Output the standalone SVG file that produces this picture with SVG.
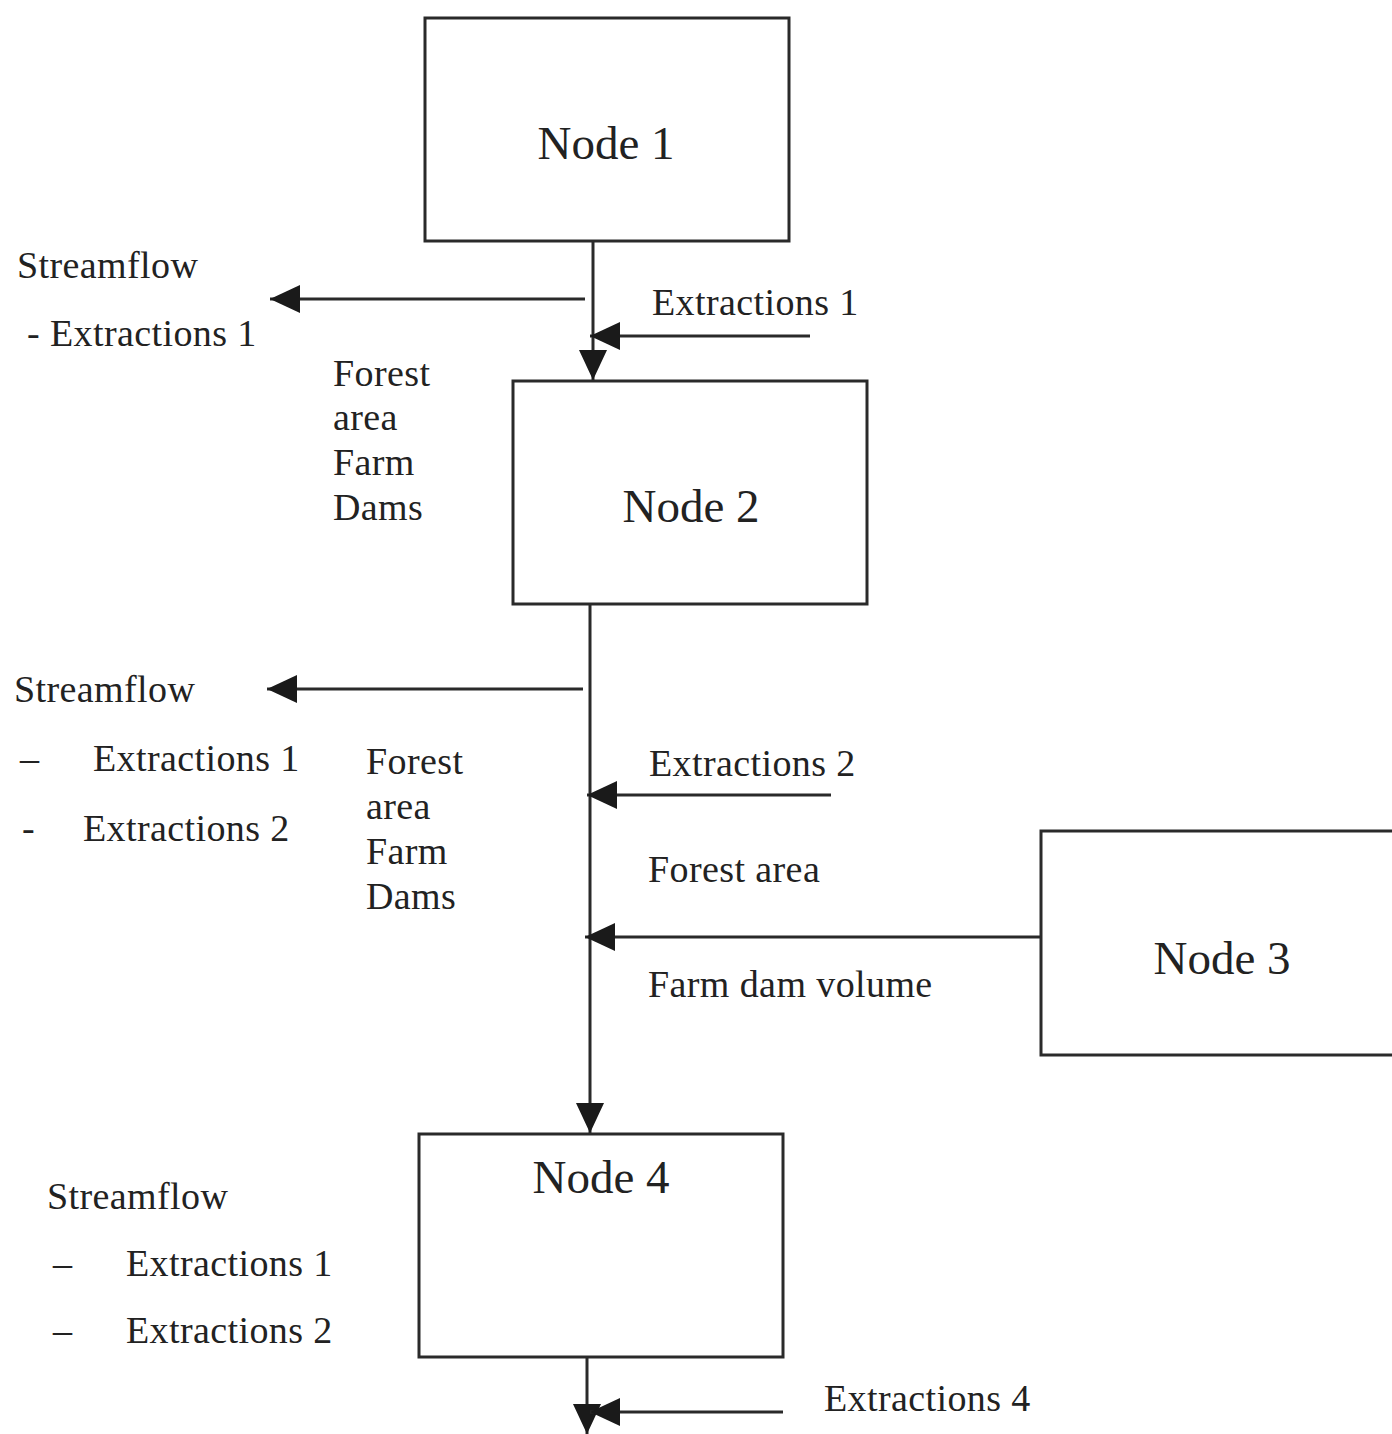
<svg xmlns="http://www.w3.org/2000/svg" width="1392" height="1434" viewBox="0 0 1392 1434">
<style>
.box{fill:#fff;stroke:#2a2a2a;stroke-width:3}
.ln{stroke:#2a2a2a;stroke-width:3;fill:none}
.t{font-family:"Liberation Serif","Times New Roman",serif;font-size:38px;letter-spacing:0.4px;fill:#222}
.n{font-family:"Liberation Serif","Times New Roman",serif;font-size:47px;fill:#222;text-anchor:middle}
</style>
<defs>
<marker id="ah" markerUnits="userSpaceOnUse" markerWidth="32" markerHeight="32" refX="30" refY="15" orient="auto">
<path d="M0,1 L30,15 L0,29 z" fill="#1a1a1a"/>
</marker>
</defs>
<rect width="1392" height="1434" fill="#fff"/>
<g id="connectors">
<line class="ln" x1="593" y1="241" x2="593" y2="380" marker-end="url(#ah)"/>
<line class="ln" x1="585" y1="299" x2="270" y2="299" marker-end="url(#ah)"/>
<line class="ln" x1="810" y1="336" x2="590" y2="336" marker-end="url(#ah)"/>
<line class="ln" x1="590" y1="604" x2="590" y2="1133" marker-end="url(#ah)"/>
<line class="ln" x1="583" y1="689" x2="267" y2="689" marker-end="url(#ah)"/>
<line class="ln" x1="831" y1="795" x2="587" y2="795" marker-end="url(#ah)"/>
<line class="ln" x1="1041" y1="937" x2="585" y2="937" marker-end="url(#ah)"/>
<line class="ln" x1="587" y1="1357" x2="587" y2="1434" marker-end="url(#ah)"/>
<line class="ln" x1="783" y1="1412" x2="590" y2="1412" marker-end="url(#ah)"/>
</g>
<g id="node1"><rect class="box" x="425" y="18" width="364" height="223"/><text class="n" x="606" y="159">Node 1</text></g>
<g id="node2"><rect class="box" x="513" y="381" width="354" height="223"/><text class="n" x="691" y="522">Node 2</text></g>
<g id="node3"><rect class="box" x="1041" y="831" width="360" height="224"/><text class="n" x="1222" y="974">Node 3</text></g>
<g id="node4"><rect class="box" x="419" y="1134" width="364" height="223"/><text class="n" x="601" y="1193">Node 4</text></g>
<g id="labels">
<text class="t" x="17" y="278">Streamflow</text>
<text class="t" x="27" y="346">- Extractions 1</text>
<text class="t" x="652" y="315">Extractions 1</text>
<text class="t" x="333" y="386">Forest</text>
<text class="t" x="333" y="430">area</text>
<text class="t" x="333" y="475">Farm</text>
<text class="t" x="333" y="520">Dams</text>
<text class="t" x="14" y="702">Streamflow</text>
<text class="t" x="20" y="771">–</text>
<text class="t" x="93" y="771">Extractions 1</text>
<text class="t" x="22" y="841">-</text>
<text class="t" x="83" y="841">Extractions 2</text>
<text class="t" x="366" y="774">Forest</text>
<text class="t" x="366" y="819">area</text>
<text class="t" x="366" y="864">Farm</text>
<text class="t" x="366" y="909">Dams</text>
<text class="t" x="649" y="776">Extractions 2</text>
<text class="t" x="648" y="882">Forest area</text>
<text class="t" x="648" y="997">Farm dam volume</text>
<text class="t" x="47" y="1209">Streamflow</text>
<text class="t" x="53" y="1276">–</text>
<text class="t" x="126" y="1276">Extractions 1</text>
<text class="t" x="53" y="1343">–</text>
<text class="t" x="126" y="1343">Extractions 2</text>
<text class="t" x="824" y="1411">Extractions 4</text>
</g>
</svg>
